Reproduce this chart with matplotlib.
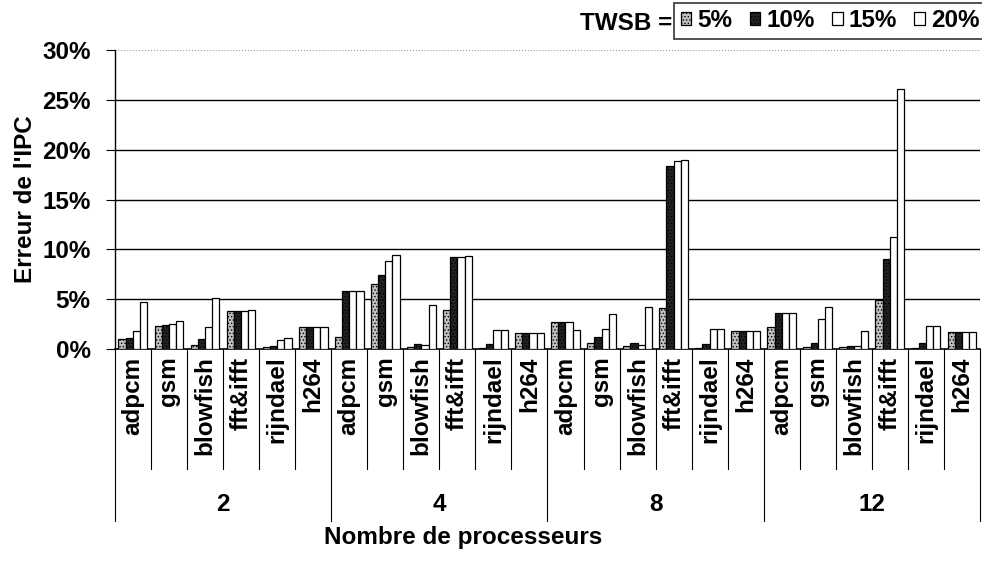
import numpy as np
import matplotlib
matplotlib.use("Agg")
import matplotlib.pyplot as plt
from matplotlib.transforms import blended_transform_factory
from matplotlib.ticker import FuncFormatter

plt.rcParams['font.family'] = ['Liberation Sans', 'DejaVu Sans']
plt.rcParams['font.weight'] = 'bold'
plt.rcParams['hatch.linewidth'] = 0.6

groups = ['2', '4', '8', '12']
benchs = ['adpcm', 'gsm', 'blowfish', 'fft&ifft', 'rijndael', 'h264']
series = ['5%', '10%', '15%', '20%']

# IPC error (%) per group, per benchmark, for each TWSB value
twsb5 = [1.0, 2.3, 0.4, 3.8, 0.25, 2.2,
         1.2, 6.5, 0.2, 3.9, 0.15, 1.6,
         2.7, 0.65, 0.35, 4.1, 0.15, 1.8,
         2.2, 0.25, 0.2, 4.9, 0.1, 1.75]
twsb10 = [1.15, 2.45, 1.05, 3.85, 0.3, 2.2,
          5.8, 7.4, 0.55, 9.2, 0.5, 1.6,
          2.7, 1.25, 0.65, 18.4, 0.55, 1.8,
          3.6, 0.6, 0.3, 9.0, 0.65, 1.75]
twsb15 = [1.85, 2.5, 2.25, 3.85, 0.95, 2.2,
          5.8, 8.85, 0.45, 9.25, 1.9, 1.6,
          2.75, 2.05, 0.45, 18.85, 2.0, 1.8,
          3.6, 3.05, 0.3, 11.25, 2.35, 1.75]
twsb20 = [4.7, 2.8, 5.15, 3.9, 1.15, 2.2,
          5.8, 9.45, 4.45, 9.3, 1.9, 1.6,
          1.9, 3.5, 4.2, 19.0, 2.0, 1.8,
          3.6, 4.2, 1.8, 26.1, 2.35, 1.75]

fs = 17.5
fig = plt.figure(figsize=(9.82, 5.63), dpi=100)
ax = fig.add_axes([0.117, 0.38, 0.881, 0.531])

n = len(groups) * len(benchs)
x = np.arange(n)
w = 0.2
styles = [
    dict(facecolor='#c0c0c0', hatch='.....', edgecolor='black'),
    dict(facecolor='#222222', hatch='.....', edgecolor='black'),
    dict(facecolor='white', edgecolor='black'),
    dict(facecolor='white', edgecolor='black'),
]
data = [twsb5, twsb10, twsb15, twsb20]
handles = []
for i, (vals, st) in enumerate(zip(data, styles)):
    b = ax.bar(x + (i - 1.5) * w, vals, w, linewidth=0.9, zorder=3, label=series[i], **st)
    handles.append(b)

ax.set_xlim(-0.5, n - 0.5)
ax.set_ylim(0, 30)
ax.set_yticks(np.arange(0, 31, 5))
ax.yaxis.set_major_formatter(FuncFormatter(lambda v, p: '%d%%' % v))
ax.tick_params(axis='y', labelsize=fs, length=6.5, width=0.8, pad=11)
ax.set_xticks([])
for yv in range(5, 30, 5):
    ax.axhline(yv, color='black', linewidth=1.0, zorder=1)
ax.axhline(30, color='#999999', linewidth=0.8, linestyle=':', zorder=1)
for s in ['top', 'right']:
    ax.spines[s].set_visible(False)
ax.spines['left'].set_linewidth(1.0)
ax.spines['bottom'].set_linewidth(1.2)
ax.set_ylabel("Erreur de l'IPC", fontsize=fs, fontweight='bold', labelpad=4)

# category labels and separators below the axis
tr = blended_transform_factory(ax.transData, ax.transAxes)
for k in range(n):
    ax.text(k, -0.025, benchs[k % len(benchs)], rotation=90, ha='center', va='top',
            fontsize=fs, fontweight='bold', transform=tr)
for k in range(n + 1):
    long_line = (k % len(benchs) == 0)
    y1 = -0.575 if long_line else -0.4
    ax.plot([k - 0.5, k - 0.5], [0, y1], color='black', linewidth=0.8,
            transform=tr, clip_on=False)
for g, name in enumerate(groups):
    xc = g * len(benchs) + (len(benchs) - 1) / 2
    ax.text(xc, -0.52, name, ha='center', va='center', fontsize=fs,
            fontweight='bold', transform=tr)
fig.text(0.472, 0.046, 'Nombre de processeurs', ha='center', va='center',
         fontsize=fs, fontweight='bold')

leg = fig.legend(handles=handles, labels=series, ncol=4, loc='upper right',
                 bbox_to_anchor=(1.004, 0.994), fontsize=fs, frameon=True,
                 fancybox=False, edgecolor='black', handlelength=0.45,
                 handleheight=0.45, handletextpad=0.25, columnspacing=0.7,
                 borderpad=0.25, borderaxespad=0.0)
leg.get_frame().set_linewidth(1.2)
fig.text(0.685, 0.958, 'TWSB =', ha='right', va='center', fontsize=fs,
         fontweight='bold')

fig.savefig('out.png', dpi=100, facecolor='white')
